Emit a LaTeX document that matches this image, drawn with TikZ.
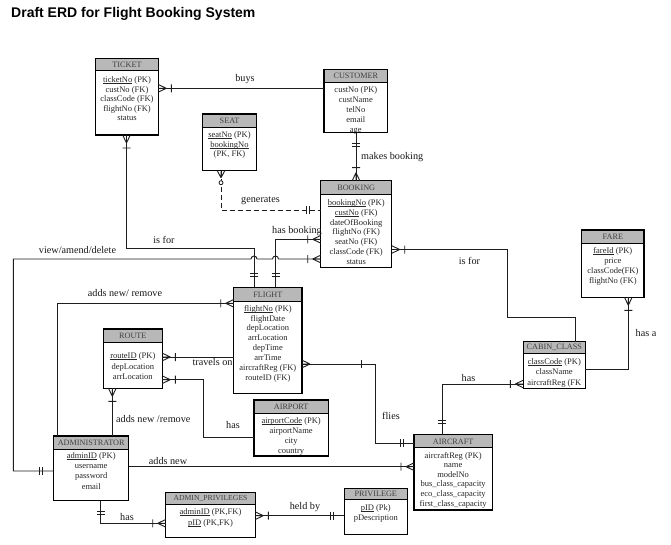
\documentclass[tikz,border=0pt]{standalone}
\usepackage{fontspec}
\setmainfont{Liberation Serif}
\newfontfamily\titlefont{Liberation Sans}
\usetikzlibrary{decorations.markings,calc}
\definecolor{hdrgray}{HTML}{B8B8B8}
\definecolor{lncol}{HTML}{1E1E1E}
\def\bskip{9.8}
\newcommand\ulk[1]{\setbox0\hbox{#1}\rlap{\rule[-1.1pt]{\wd0}{0.45pt}}\box0\relax}
\newcommand\CrowMk{\draw[solid,line width=0.9pt] (-8pt,0pt) -- (0pt,3.8pt) (-8pt,0pt) -- (0pt,-3.8pt) (-8pt,0pt) -- (0pt,0pt) (-13pt,4pt) -- (-13pt,-4pt);}
\newcommand\CrowOnlyMk{\draw[solid,line width=0.9pt] (-8pt,0pt) -- (0pt,3.8pt) (-8pt,0pt) -- (0pt,-3.8pt) (-8pt,0pt) -- (0pt,0pt);}
\newcommand\OneMk{\draw[solid,line width=0.9pt] (-11pt,4pt) -- (-11pt,-4pt) (-14pt,4pt) -- (-14pt,-4pt);}
\newcommand\ZCrowMk{\draw[solid,line width=0.9pt] (-7pt,0pt) -- (0pt,3.8pt) (-7pt,0pt) -- (0pt,-3.8pt) (-7pt,0pt) -- (0pt,0pt); \draw[solid,line width=0.8pt,fill=white] (-12pt,0pt) circle (2pt);}
\tikzset{
  conn/.style={draw=lncol, line width=0.9pt},
  crow end/.style={postaction={decorate,decoration={markings,mark=at position 1 with {\CrowMk}}}},
  crow start/.style={postaction={decorate,decoration={markings,mark=at position 0 with {\begin{scope}[xscale=-1]\CrowMk\end{scope}}}}},
  crowonly start/.style={postaction={decorate,decoration={markings,mark=at position 0 with {\begin{scope}[xscale=-1]\CrowOnlyMk\end{scope}}}}},
  one end/.style={postaction={decorate,decoration={markings,mark=at position 1 with {\OneMk}}}},
  one start/.style={postaction={decorate,decoration={markings,mark=at position 0 with {\begin{scope}[xscale=-1]\OneMk\end{scope}}}}},
  zcrow start/.style={postaction={decorate,decoration={markings,mark=at position 0 with {\begin{scope}[xscale=-1]\ZCrowMk\end{scope}}}}},
  entbox/.style={draw=black, line width=1.1pt, inner sep=0pt, outer sep=0pt},
  hdrtxt/.style={inner sep=0pt, text=black!75, font=\fontsize{8.2}{9}\selectfont},
  bodytxt/.style={anchor=north, inner sep=0pt, align=center, text=black!85, font=\fontsize{8.5}{\bskip}\selectfont},
  lbl/.style={inner sep=0pt, text=black!90, font=\fontsize{10.2}{12}\selectfont},
}
\newcommand\Ent[9]{%
  \fill[hdrgray] (#2,#3) rectangle (#4,#6);
  \draw[line width=0.6pt] (#2,#6) -- (#4,#6);
  \node[entbox, minimum width={(#4-#2)*1pt}, minimum height={(#5-#3)*1pt}, anchor=north west] (#1) at (#2,#3) {};
  \node[hdrtxt] (#1-t) at ({(#2+#4)/2},{(#3+#6)/2+0.3}) {#7};
  \node[bodytxt] (#1-b) at ({(#2+#4)/2},{#8-3.3}) {#9};
}
\begin{document}
\begin{tikzpicture}[x=1pt,y=-1pt]
\useasboundingbox[fill=white] (0,0) rectangle (671,545);
\node[anchor=base west, inner sep=0pt, font=\titlefont\bfseries\fontsize{14}{16}\selectfont] (title) at (11,17.5) {Draft ERD for Flight Booking System};

% entities
\def\bskip{9.5}
\Ent{ticket}{95.7}{58.7}{158.3}{135}{70.7}{TICKET}{80}{\ulk{ticketNo} (PK)\\custNo (FK)\\classCode (FK)\\flightNo (FK)\\status}
\def\bskip{10}
\Ent{customer}{324}{69.3}{387.7}{132.7}{82}{CUSTOMER}{90}{custNo (PK)\\custName\\telNo\\email\\age}
\def\bskip{9.83}
\Ent{booking}{320.7}{180.7}{391.7}{267.7}{194.3}{BOOKING}{202.7}{\ulk{bookingNo} (PK)\\\ulk{custNo} (FK)\\dateOfBooking\\flightNo (FK)\\seatNo (FK)\\classCode (FK)\\status}
\def\bskip{9.5}
\Ent{seat}{202.3}{114}{256.7}{170.7}{127.7}{SEAT}{135}{\ulk{seatNo} (PK)\\\ulk{bookingNo}\\(PK, FK)}
\def\bskip{9.86}
\Ent{flight}{233.7}{287.3}{302}{393.3}{301.7}{FLIGHT}{308.3}{\ulk{flightNo} (PK)\\flightDate\\depLocation\\arrLocation\\depTime\\arrTime\\aircraftReg (FK)\\routeID (FK)}
\def\bskip{10}
\Ent{airport}{254}{400}{328.3}{456}{413.3}{AIRPORT}{420.7}{\ulk{airportCode} (PK)\\airportName\\city\\country}
\def\bskip{10.3}
\Ent{route}{103.3}{329}{162.3}{388.3}{342.3}{ROUTE}{356}{\ulk{routeID} (PK)\\depLocation\\arrLocation}
\def\bskip{10.2}
\Ent{admin}{53.7}{436}{128.7}{500.7}{449.3}{ADMINISTRATOR}{455.7}{\ulk{adminID} (PK)\\username\\password\\email}
\def\bskip{10.5}
\Ent{adminpriv}{165.7}{492.7}{255.3}{537.3}{504.3}{{\fontsize{7.7}{9}\selectfont ADMIN\_PRIVILEGES}}{512}{\ulk{adminID} (PK,FK)\\\ulk{pID} (PK,FK)}
\def\bskip{10}
\Ent{privilege}{344.3}{488.3}{407.3}{534.3}{499.3}{PRIVILEGE}{507.3}{\ulk{pID} (Pk)\\pDescription}
\def\bskip{9.6}
\Ent{aircraft}{414}{434.7}{492.3}{510}{447.7}{AIRCRAFT}{455.3}{aircraftReg (PK)\\name\\modelNo\\bus\_class\_capacity\\eco\_class\_capacity\\first\_class\_capacity}
\def\bskip{10.5}
\Ent{cabin}{523.3}{341.7}{585.3}{388.3}{353.3}{CABIN\_CLASS}{361.7}{\ulk{classCode} (PK)\\className\\aircraftReg (FK}
\def\bskip{10.1}
\Ent{fare}{581.7}{230}{644}{297.3}{243.3}{FARE}{250.7}{\ulk{fareId} (PK)\\price\\classCode(FK)\\flightNo (FK)}

% connectors
\draw[conn, crow start] (ticket.east |- 0,88.3) -- (customer.west |- 0,88.3);
\node[lbl] (l-buys) at (245,79) {buys};

\draw[conn, one start, crow end] (customer.south -| 356,0) -- (booking.north -| 356,0);
\node[lbl, anchor=west] (l-mb) at (361,157.5) {makes booking};

\draw[conn, dash pattern=on 5pt off 3pt, zcrow start, one end] (seat.south -| 221,0) -- (221,210) -- (booking.west |- 0,210);
\node[lbl] (l-gen) at (260.5,201) {generates};

\draw[conn, one start, crow end] (flight.north -| 275.5,0) -- (275.5,239.3) -- (booking.west |- 0,239.3);
\node[lbl] (l-hb) at (297,231) {has booking};

\draw[conn, crow start, one end] (ticket.south -| 126.5,0) -- (126.5,248.5) -- (254,248.5) -- (flight.north -| 254,0);
\node[lbl] (l-isfor1) at (164,240) {is for};

\draw[conn, one start, crow end] (admin.west |- 0,471) -- (13.3,471) -- (13.3,259) -- (251,259)
  arc[start angle=180, end angle=0, radius=3pt] -- (272.5,259)
  arc[start angle=180, end angle=0, radius=3pt] -- (booking.west |- 0,259);
\node[lbl] (l-vad) at (77.5,250) {view/amend/delete};

\draw[conn, crow end] (admin.north -| 57.7,0) -- (57.7,303.3) -- (flight.west |- 0,303.3);
\node[lbl] (l-anr1) at (125,293.3) {adds new/ remove};

\draw[conn, crow end] (admin.north -| 112.3,0) -- (route.south -| 112.3,0);
\node[lbl, anchor=west] (l-anr2) at (116,419) {adds new /remove};

\draw[conn, crow end] (flight.west |- 0,357) -- (route.east |- 0,357);
\node[lbl] (l-trav) at (212.5,362) {travels on};

\draw[conn, crow end] (airport.west |- 0,437.3) -- (203.7,437.3) -- (203.7,379.7) -- (route.east |- 0,379.7);
\node[lbl] (l-has1) at (233,425) {has};

\draw[conn, crowonly start, one end] (flight.east |- 0,364) -- (375,364) -- (375,443.3) -- (aircraft.west |- 0,443.3);
\draw[conn] (361.7,360) -- (361.7,368);
\node[lbl] (l-flies) at (391,415.5) {flies};

\draw[conn, one start, crow end] (aircraft.north -| 442.3,0) -- (442.3,384) -- (cabin.west |- 0,384);
\node[lbl] (l-has2) at (468.5,377.7) {has};

\draw[conn, crow start] (booking.east |- 0,249.5) -- (507.7,249.5) -- (507.7,317.3) -- (575.3,317.3) -- (cabin.north -| 575.3,0);
\node[lbl] (l-isfor2) at (469.5,260.7) {is for};

\draw[conn, crow start] (fare.south -| 628.3,0) -- (628.3,369) -- (cabin.east |- 0,369);
\node[lbl] (l-hasa) at (646,333) {has a};

\draw[conn, crow end] (admin.east |- 0,466.7) -- (aircraft.west |- 0,466.7);
\node[lbl] (l-an) at (168,461) {adds new};

\draw[conn, one start, crow end] (admin.south -| 100.7,0) -- (100.7,523.3) -- (adminpriv.west |- 0,523.3);
\node[lbl] (l-has3) at (127,517.5) {has};

\draw[conn, crow start, one end] (adminpriv.east |- 0,515.7) -- (privilege.west |- 0,515.7);
\node[lbl] (l-held) at (305,506.7) {held by};
\end{tikzpicture}
\end{document}
